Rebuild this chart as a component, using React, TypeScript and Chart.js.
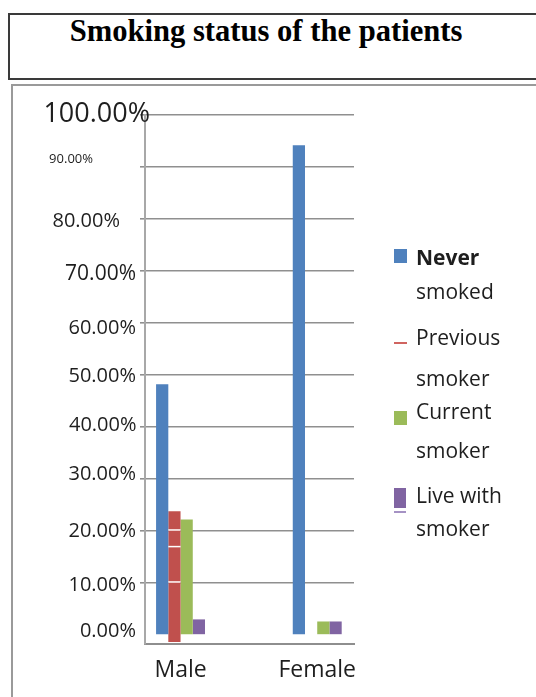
import React, { useEffect, useRef } from 'react';
import { Chart, registerables } from 'chart.js';

Chart.register(...registerables);

// ---------- data ----------
const TITLE = 'Smoking status of the patients';
const CATEGORIES = ['Male', 'Female'];
const SERIES_NAMES = ['Never smoked', 'Previous smoker', 'Current smoker', 'Live with smoker'];
const NEVER_SMOKED = [48.2, 94.2];
const PREVIOUS_SMOKER = [23.8, 0];
const CURRENT_SMOKER = [22.2, 2.6];
const LIVE_WITH_SMOKER = [3.0, 2.6];
const Y_TICKS = [0, 10, 20, 30, 40, 50, 60, 70, 80, 90, 100];
const Y_MIN = -1.73;
const Y_MAX = 100;
const X_MIN = -0.26;
const X_MAX = 1.269;
const PREVIOUS_BAR_BASE = -1.35;
const PREVIOUS_BAR_STRIPES = [20.2, 17.0, 10.2];

// ---------- styles ----------
const COLORS = ['#4F81BD', '#C0504D', '#9BBB59', '#8064A2'];
const FONT = '"Open Sans", "Noto Sans", sans-serif';
const TEXT_COLOR = '#1e1e1e';
// per tick label: font size, right edge relative to axis, baseline offset relative to grid line
const Y_TICK_STYLE: Record<number, { size: number; right: number; dy: number }> = {
  100: { size: 27, right: 5, dy: 6.7 },
  90: { size: 13, right: -52, dy: -4 },
  80: { size: 20, right: -25, dy: 7.7 },
  70: { size: 21, right: -9, dy: 9.3 },
  60: { size: 20, right: -9, dy: 10.6 },
  50: { size: 20, right: -9, dy: 7.3 },
  40: { size: 20, right: -8.5, dy: 4.4 },
  30: { size: 20, right: -9, dy: 0.7 },
  20: { size: 20, right: -9, dy: 6.3 },
  10: { size: 20, right: -9, dy: 8.4 },
  0: { size: 20, right: -9, dy: 1.7 },
};
const LEGEND_TEXT_X = 416;
const LEGEND_BASELINES = [
  [265, 299],
  [345, 386.7],
  [419, 458],
  [503, 536.7],
];
const LEGEND_MARKERS = [
  { kind: 'box', left: 394, top: 249, w: 13, h: 14 },
  { kind: 'line', left: 394, top: 342, w: 13, h: 2 },
  { kind: 'box', left: 394, top: 411, w: 13, h: 14 },
  { kind: 'tall', left: 394, top: 488, w: 12, h: 20 },
];
const LEGEND_FONT_SIZE = 21;

const yTickLabelPlugin = {
  id: 'yTickLabels',
  afterDraw(chart: any) {
    const scale = chart.scales.y;
    const ctx = chart.ctx;
    ctx.save();
    ctx.fillStyle = TEXT_COLOR;
    ctx.textAlign = 'right';
    ctx.textBaseline = 'alphabetic';
    for (const t of scale.ticks) {
      const st = Y_TICK_STYLE[t.value] || { size: 20, right: -9, dy: 6 };
      ctx.font = `${st.size}px ${FONT}`;
      const y = scale.getPixelForValue(t.value) + st.dy;
      ctx.fillText(`${Number(t.value).toFixed(2)}%`, chart.chartArea.left + st.right, y);
    }
    ctx.restore();
  },
};

const stripePlugin = {
  id: 'redStripes',
  afterDatasetsDraw(chart: any) {
    const meta = chart.getDatasetMeta(1);
    const bar = meta.data[0];
    if (!bar) return;
    const ctx = chart.ctx;
    const yScale = chart.scales.y;
    const { x, width } = bar.getProps(['x', 'width'], true);
    ctx.save();
    ctx.strokeStyle = '#ffffff';
    ctx.lineWidth = 1.5;
    for (const v of PREVIOUS_BAR_STRIPES) {
      const y = yScale.getPixelForValue(v);
      ctx.beginPath();
      ctx.moveTo(x - width / 2, y);
      ctx.lineTo(x + width / 2, y);
      ctx.stroke();
    }
    ctx.restore();
  },
};

function toPoints(values: number[]) {
  return values.map((v, i) => ({ x: i, y: v }));
}

export default function App() {
  const canvasRef = useRef<HTMLCanvasElement | null>(null);

  useEffect(() => {
    if (!canvasRef.current) return;
    const previousData = PREVIOUS_SMOKER.map((v, i) => ({
      x: i,
      y: v > 0 ? [PREVIOUS_BAR_BASE, v] : v,
    }));
    const chart = new Chart(canvasRef.current, {
      type: 'bar',
      data: {
        datasets: [
          { label: SERIES_NAMES[0], data: toPoints(NEVER_SMOKED), backgroundColor: COLORS[0] },
          { label: SERIES_NAMES[1], data: previousData as any, backgroundColor: COLORS[1] },
          { label: SERIES_NAMES[2], data: toPoints(CURRENT_SMOKER), backgroundColor: COLORS[2] },
          { label: SERIES_NAMES[3], data: toPoints(LIVE_WITH_SMOKER), backgroundColor: COLORS[3] },
        ],
      },
      options: {
        animation: false,
        responsive: false,
        maintainAspectRatio: false,
        datasets: {
          bar: { categoryPercentage: 0.358, barPercentage: 1.0, borderWidth: 0 },
        },
        layout: { padding: { top: 115, left: 140, right: 182, bottom: -0.6 } },
        plugins: {
          legend: { display: false },
          title: { display: false },
          tooltip: { enabled: false },
        },
        scales: {
          x: {
            type: 'linear',
            min: X_MIN,
            max: X_MAX,
            offset: false,
            grid: { display: false, drawTicks: false, offset: false },
            border: { display: true, color: '#8e8e8e', width: 2 },
            afterBuildTicks: (s: any) => {
              s.ticks = CATEGORIES.map((_, i) => ({ value: i }));
            },
            ticks: {
              autoSkip: false,
              maxRotation: 0,
              padding: 13,
              color: TEXT_COLOR,
              font: { family: FONT, size: 23 },
              callback: (v: any) => CATEGORIES[Math.round(Number(v))] ?? '',
            },
          },
          y: {
            type: 'linear',
            min: Y_MIN,
            max: Y_MAX,
            afterBuildTicks: (s: any) => {
              s.ticks = Y_TICKS.map((v) => ({ value: v }));
            },
            grid: {
              drawTicks: true,
              tickLength: 5,
              lineWidth: 1.6,
              color: (c: any) => (c.tick && c.tick.value === 0 ? 'rgba(0,0,0,0)' : '#8f8f8f'),
            },
            border: { display: true, color: '#a8a8a8', width: 2 },
            ticks: { display: false },
          },
        },
      },
      plugins: [yTickLabelPlugin, stripePlugin],
    });
    return () => chart.destroy();
  }, []);

  const legendFontPx = LEGEND_FONT_SIZE;
  const asc = 1.069 * legendFontPx;

  return (
    <div
      style={{
        position: 'absolute',
        left: 0,
        top: 0,
        width: 536,
        height: 697,
        overflow: 'hidden',
        background: '#ffffff',
      }}
    >
      <div
        style={{
          position: 'absolute',
          left: 8,
          top: 13,
          width: 580,
          height: 67,
          boxSizing: 'border-box',
          border: '2px solid #3a3a3a',
        }}
      />
      <div
        style={{
          position: 'absolute',
          left: 0,
          width: 532,
          top: 42 - 0.891 * 30.6,
          textAlign: 'center',
          fontFamily: '"Liberation Serif", "Times New Roman", serif',
          fontWeight: 'bold',
          fontSize: 30.6,
          lineHeight: `${1.107 * 30.6}px`,
          color: '#000',
          whiteSpace: 'nowrap',
        }}
      >
        {TITLE}
      </div>
      <div
        style={{
          position: 'absolute',
          left: 11,
          top: 84,
          width: 600,
          height: 700,
          boxSizing: 'border-box',
          borderLeft: '2px solid #9a9a9a',
          borderTop: '2px solid #9a9a9a',
        }}
      />
      <canvas
        ref={canvasRef}
        width={536}
        height={697}
        style={{ position: 'absolute', left: 0, top: 0, width: 536, height: 697, display: 'block' }}
      />
      {SERIES_NAMES.map((name, i) => {
        const cut = name.lastIndexOf(' ');
        const lines = [name.slice(0, cut), name.slice(cut + 1)];
        const m = LEGEND_MARKERS[i];
        return (
          <React.Fragment key={name}>
            <div
              style={{
                position: 'absolute',
                left: m.left,
                top: m.top,
                width: m.w,
                height: m.h,
                background: m.kind === 'line' ? '#d06460' : COLORS[i],
              }}
            />
            {m.kind === 'tall' && (
              <div
                style={{
                  position: 'absolute',
                  left: m.left,
                  top: m.top + m.h + 3,
                  width: m.w,
                  height: 1.5,
                  background: '#a592c4',
                }}
              />
            )}
            {lines.map((ln, j) => (
              <div
                key={j}
                style={{
                  position: 'absolute',
                  left: LEGEND_TEXT_X,
                  top: LEGEND_BASELINES[i][j] - asc,
                  fontFamily: FONT,
                  fontSize: legendFontPx,
                  lineHeight: `${1.362 * legendFontPx}px`,
                  fontWeight: i === 0 && j === 0 ? 'bold' : 'normal',
                  color: TEXT_COLOR,
                  whiteSpace: 'nowrap',
                }}
              >
                {ln}
              </div>
            ))}
          </React.Fragment>
        );
      })}
    </div>
  );
}
